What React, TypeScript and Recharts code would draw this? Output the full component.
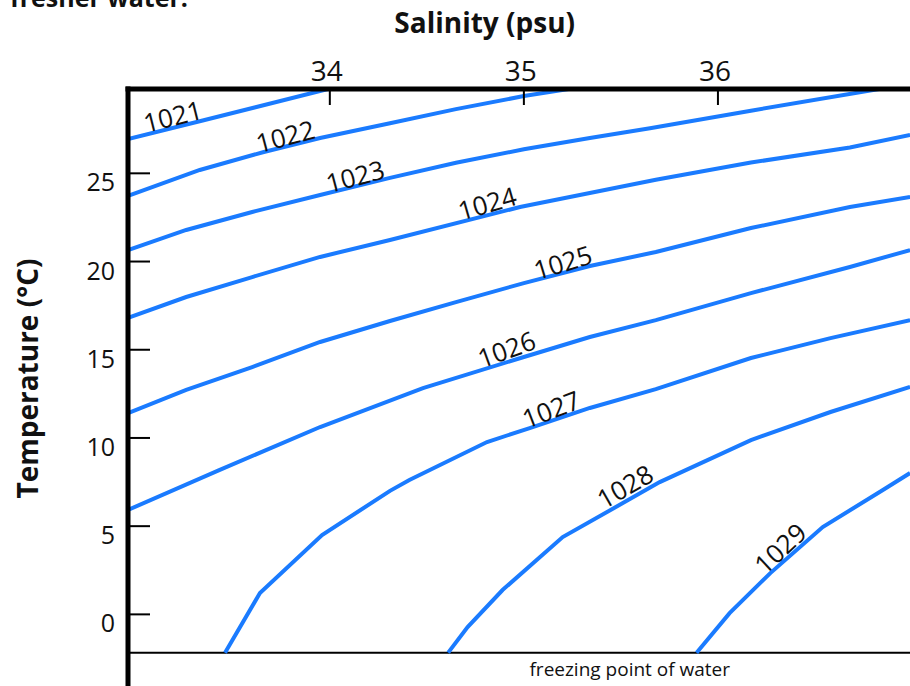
import React from 'react';
import { LineChart, Line, XAxis, YAxis, ReferenceLine, ReferenceDot } from 'recharts';

const FONT = '"Open Sans", sans-serif';
const BLUE = '#1a7bff';
const INK = '#111';

// axes
const salinityTicks = [34, 35, 36];
const temperatureTicks = [0, 5, 10, 15, 20, 25];
const salinityDomain = [32.96, 37];
const temperatureDomain = [-4.06, 29.78];
const freezingPoint = -2.17;

// density contours (kg/m3): s = salinity (psu), t = temperature (°C)
const sigma1021 = [
  { s: 32.96, t: 26.94 }, { s: 33.35, t: 28.01 }, { s: 33.99, t: 29.78 },
];
const sigma1022 = [
  { s: 32.96, t: 23.72 }, { s: 33.33, t: 25.19 }, { s: 33.66, t: 26.21 }, { s: 33.95, t: 27.0 },
  { s: 34.31, t: 27.84 }, { s: 34.65, t: 28.64 }, { s: 35.0, t: 29.38 }, { s: 35.23, t: 29.78 },
];
const sigma1023 = [
  { s: 32.96, t: 20.65 }, { s: 33.26, t: 21.79 }, { s: 33.6, t: 22.81 }, { s: 33.95, t: 23.77 },
  { s: 34.31, t: 24.74 }, { s: 34.65, t: 25.6 }, { s: 35.0, t: 26.36 }, { s: 35.34, t: 27.0 },
  { s: 35.65, t: 27.55 }, { s: 36.17, t: 28.55 }, { s: 36.83, t: 29.78 },
];
const sigma1024 = [
  { s: 32.96, t: 16.8 }, { s: 33.26, t: 17.99 }, { s: 33.6, t: 19.12 }, { s: 33.95, t: 20.26 },
  { s: 34.31, t: 21.22 }, { s: 34.98, t: 23.09 }, { s: 35.68, t: 24.64 }, { s: 36.17, t: 25.61 },
  { s: 36.68, t: 26.46 }, { s: 36.99, t: 27.17 },
];
const sigma1025 = [
  { s: 32.96, t: 11.41 }, { s: 33.26, t: 12.72 }, { s: 33.6, t: 14.02 }, { s: 33.95, t: 15.44 },
  { s: 34.31, t: 16.63 }, { s: 34.65, t: 17.7 }, { s: 35.0, t: 18.78 }, { s: 35.34, t: 19.75 },
  { s: 35.68, t: 20.54 }, { s: 36.17, t: 21.9 }, { s: 36.68, t: 23.09 }, { s: 36.99, t: 23.66 },
];
const sigma1026 = [
  { s: 32.96, t: 5.92 }, { s: 33.43, t: 8.18 }, { s: 33.95, t: 10.62 }, { s: 34.48, t: 12.83 },
  { s: 35.0, t: 14.59 }, { s: 35.34, t: 15.72 }, { s: 35.68, t: 16.68 }, { s: 36.17, t: 18.21 },
  { s: 36.68, t: 19.69 }, { s: 36.99, t: 20.65 },
];
const sigma1027 = [
  { s: 33.46, t: -2.17 }, { s: 33.64, t: 1.21 }, { s: 33.96, t: 4.5 }, { s: 34.31, t: 7.0 },
  { s: 34.41, t: 7.62 }, { s: 34.81, t: 9.77 }, { s: 35.03, t: 10.56 }, { s: 35.34, t: 11.7 },
  { s: 35.68, t: 12.77 }, { s: 36.17, t: 14.53 }, { s: 36.58, t: 15.66 }, { s: 36.99, t: 16.68 },
];
const sigma1028 = [
  { s: 34.61, t: -2.17 }, { s: 34.71, t: -0.72 }, { s: 34.89, t: 1.38 }, { s: 35.2, t: 4.38 },
  { s: 35.51, t: 6.31 }, { s: 35.7, t: 7.5 }, { s: 36.17, t: 9.88 }, { s: 36.58, t: 11.47 },
  { s: 36.99, t: 12.89 },
];
const sigma1029 = [
  { s: 35.89, t: -2.17 }, { s: 36.06, t: 0.07 }, { s: 36.27, t: 2.34 }, { s: 36.54, t: 4.95 },
  { s: 36.85, t: 7.05 }, { s: 36.99, t: 8.01 },
];

const contours = [
  { name: '1021', data: sigma1021 },
  { name: '1022', data: sigma1022 },
  { name: '1023', data: sigma1023 },
  { name: '1024', data: sigma1024 },
  { name: '1025', data: sigma1025 },
  { name: '1026', data: sigma1026 },
  { name: '1027', data: sigma1027 },
  { name: '1028', data: sigma1028 },
  { name: '1029', data: sigma1029 },
];

// where each contour is labelled (centre of the text) and the text angle
const contourLabels = [
  { text: '1021', s: 33.19, t: 28.25, angle: -14 },
  { text: '1022', s: 33.77, t: 27.12, angle: -15 },
  { text: '1023', s: 34.13, t: 24.85, angle: -15 },
  { text: '1024', s: 34.81, t: 23.32, angle: -16 },
  { text: '1025', s: 35.2, t: 19.97, angle: -17 },
  { text: '1026', s: 34.91, t: 15.04, angle: -20 },
  { text: '1027', s: 35.14, t: 11.64, angle: -21 },
  { text: '1028', s: 35.52, t: 7.27, angle: -30 },
  { text: '1029', s: 36.32, t: 3.76, angle: -43 },
];

const SalinityTick = ({ x, y, payload }: any) => (
  <g>
    <line x1={x} x2={x} y1={y} y2={y + 16} stroke="#000" strokeWidth={2} />
    <text x={x - 3} y={y - 8} textAnchor="middle" fontSize={28} fontFamily={FONT} fill={INK}>
      {payload.value}
    </text>
  </g>
);

const TemperatureTick = ({ x, y, payload }: any) => (
  <g>
    <line x1={x} x2={x + 22} y1={y} y2={y} stroke="#000" strokeWidth={2} />
    <text x={x - 13} y={y + 18} textAnchor="end" fontSize={25} fontFamily={FONT} fill={INK}>
      {payload.value}
    </text>
  </g>
);

const SalinityTitle = ({ viewBox }: any) => (
  <text
    x={viewBox.x + viewBox.width * 0.455}
    y={viewBox.y + 33}
    textAnchor="middle"
    fontSize={28}
    fontWeight={700}
    fontFamily={FONT}
    fill={INK}
  >
    Salinity (psu)
  </text>
);

const TemperatureTitle = ({ viewBox }: any) => {
  const cx = viewBox.x + 38;
  const cy = viewBox.y + viewBox.height * 0.485;
  return (
    <text
      x={cx}
      y={cy}
      transform={`rotate(-90 ${cx} ${cy})`}
      textAnchor="middle"
      fontSize={28}
      fontWeight={700}
      fontFamily={FONT}
      fill={INK}
    >
      Temperature (°C)
    </text>
  );
};

const FreezingLabel = ({ viewBox }: any) => (
  <text
    x={viewBox.x + viewBox.width * 0.64}
    y={viewBox.y + 23}
    textAnchor="middle"
    fontSize={19}
    fontFamily={FONT}
    fill={INK}
  >
    freezing point of water
  </text>
);

const contourLabel = (text: string, angle: number) => ({ viewBox }: any) => {
  const cx = viewBox.x;
  const cy = viewBox.y;
  return (
    <text
      x={cx}
      y={cy}
      transform={`rotate(${angle} ${cx} ${cy})`}
      textAnchor="middle"
      dominantBaseline="central"
      fontSize={26}
      fontFamily={FONT}
      fill={INK}
    >
      {text}
    </text>
  );
};

export default function App() {
  return (
    <div style={{ position: 'absolute', left: 0, top: 0, width: 910, height: 686, overflow: 'hidden', background: '#fff' }}>
      <LineChart width={912} height={686} margin={{ top: 0, right: 0, bottom: 0, left: 0 }}>
        <XAxis
          type="number"
          dataKey="s"
          orientation="top"
          domain={salinityDomain}
          ticks={salinityTicks}
          height={89}
          allowDataOverflow
          axisLine={{ stroke: '#000', strokeWidth: 5, strokeLinecap: 'square' }}
          tickLine={false}
          tickSize={0}
          tickMargin={0}
          tick={SalinityTick}
          label={SalinityTitle}
        />
        <YAxis
          type="number"
          dataKey="t"
          domain={temperatureDomain}
          ticks={temperatureTicks}
          width={128}
          allowDataOverflow
          axisLine={{ stroke: '#000', strokeWidth: 5, strokeLinecap: 'square' }}
          tickLine={false}
          tickSize={0}
          tickMargin={0}
          tick={TemperatureTick}
          label={TemperatureTitle}
        />
        <ReferenceLine y={freezingPoint} stroke="#000" strokeWidth={2} label={FreezingLabel} />
        {contours.map((c) => (
          <Line
            key={c.name}
            data={c.data}
            dataKey="t"
            type="linear"
            stroke={BLUE}
            strokeWidth={4}
            dot={false}
            activeDot={false}
            isAnimationActive={false}
          />
        ))}
        {contourLabels.map((l) => (
          <ReferenceDot
            key={l.text}
            x={l.s}
            y={l.t}
            r={0}
            fill="none"
            stroke="none"
            label={contourLabel(l.text, l.angle)}
          />
        ))}
      </LineChart>
      <svg width={300} height={20} style={{ position: 'absolute', left: 0, top: 0 }}>
        <text x={10} y={7} fontSize={25} fontWeight={700} fontFamily={FONT} fill={INK}>
          fresher water.
        </text>
      </svg>
    </div>
  );
}
